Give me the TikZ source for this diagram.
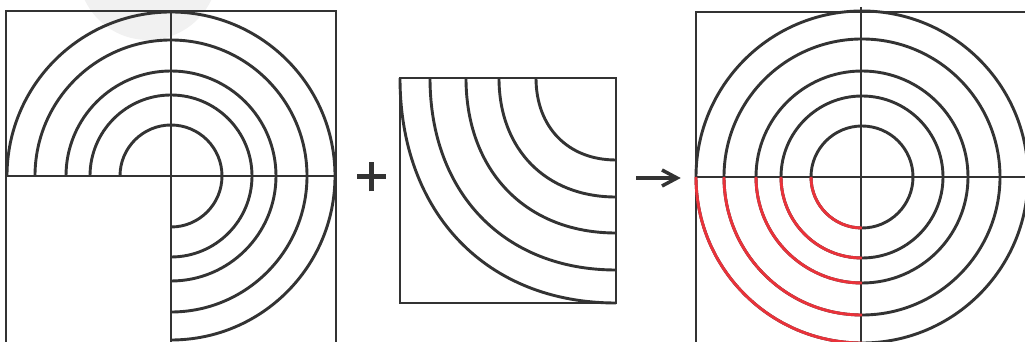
\documentclass[tikz,border=0pt]{standalone}
\usetikzlibrary{calc}
\definecolor{ink}{RGB}{51,51,51}
\definecolor{hot}{RGB}{233,50,58}
\definecolor{blob}{RGB}{241,241,241}
\tikzset{
  ln/.style={draw=ink, line width=2.9pt},
  redln/.style={draw=hot, line width=2.9pt},
  sym/.style={draw=ink, line width=4pt},
}
\begin{document}
\begin{tikzpicture}[x=1pt,y=1pt]
\useasboundingbox (0,0) rectangle (1025,342);
\clip (0,0) rectangle (1025,342);
% faint background blob
\fill[blob] (148,372) circle[radius=70];

% ---------- left panel ----------
\coordinate (L) at (171,166);
\foreach \r in {51,81,105,136,164}{
  \draw[ln] ($(L)+(-\r,0)$) arc[start angle=180, end angle=0, radius=\r];
  \draw[ln] ($(L)+(\r,0)$) arc[start angle=0, end angle=-90, radius=\r];
}
\draw[ln] (6,-5) -- (6,331) -- (336,331) -- (336,-5);
\draw[ln] (6,166) -- (336,166);
\draw[ln] (171,331) -- (171,-5);

% ---------- plus ----------
\coordinate (P) at (371.5,165);
\draw[sym, line width=5pt] ($(P)+(-14.5,0)$) -- ($(P)+(14.5,0)$);
\draw[sym, line width=5pt] ($(P)+(0,-14.5)$) -- ($(P)+(0,14.5)$);

% ---------- middle panel ----------
\coordinate (M) at (616,264);
\foreach \a/\b in {80/82,117/119,150/155,186/192,216/225}{
  \draw[ln] ($(M)+(-\a,0)$) .. controls ($(M)+(-\a,-0.6*\b)$) and ($(M)+(-0.6*\a,-\b)$) .. ($(M)+(0,-\b)$);
}
\draw[ln] (400,39) rectangle (616,264);

% ---------- arrow ----------
\coordinate (A1) at (636,164);
\coordinate (A2) at (676,164);
\draw[sym, line width=3.5pt] (A1) -- (A2);
\draw[sym, line width=3.5pt, line join=miter] ($(A2)+(-14,8)$) -- ($(A2)+(1,0)$) -- ($(A2)+(-14,-8)$);

% ---------- right panel ----------
\coordinate (R) at (862,165);
\foreach \r in {51,81,106,138,166}{
  \draw[ln] (R) circle[radius=\r];
}
\draw[ln] (696,-5) -- (696,330) -- (1030,330);
\draw[ln] (696,165) -- (1030,165);
\draw[ln] (861,335) -- (861,-5);
\foreach \r in {51,81,106,138,166}{
  \draw[redln] ($(R)+(-\r,0)$) arc[start angle=180, end angle=270, radius=\r];
}
\end{tikzpicture}
\end{document}
